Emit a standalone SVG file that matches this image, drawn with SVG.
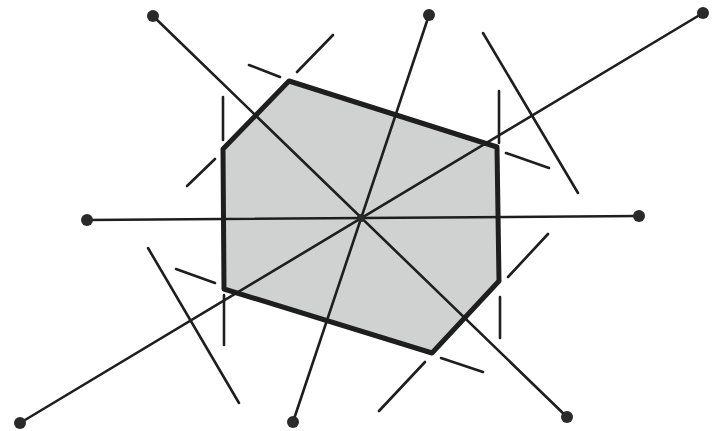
<svg xmlns="http://www.w3.org/2000/svg" width="716" height="431" viewBox="0 0 716 431">
<style>
.ray{stroke:#1e1e1e;stroke-width:2.6;fill:none;stroke-linecap:round}
.bis{stroke:#1e1e1e;stroke-width:2.6;fill:none;stroke-linecap:round}
.dot{fill:#2a2a2a}
.cell{fill:#d0d2d2;stroke:#1e1e1e;stroke-width:5;stroke-linejoin:round}
</style>
<rect width="716" height="431" fill="#ffffff"/>
<g id="cell">
<polygon class="cell" points="289,81 497,147 499,281 432,353 224,289 223,149"/>
</g>
<g id="connectors">
<line class="ray" x1="153" y1="16" x2="567" y2="417"/>
<line class="ray" x1="703" y1="13" x2="20" y2="423"/>
<line class="ray" x1="429" y1="15" x2="293" y2="422"/>
<line class="ray" x1="87" y1="220" x2="639" y2="216"/>
</g>
<g id="bisectors">
<line class="bis" x1="249" y1="65" x2="280" y2="77"/>
<line class="bis" x1="297" y1="72" x2="333" y2="35"/>
<line class="bis" x1="223" y1="97" x2="223" y2="140"/>
<line class="bis" x1="187" y1="186" x2="215" y2="159"/>
<line class="bis" x1="499" y1="91" x2="499" y2="143"/>
<line class="bis" x1="506" y1="153" x2="549" y2="168"/>
<line class="bis" x1="483" y1="33" x2="578" y2="193"/>
<line class="bis" x1="176" y1="269" x2="215" y2="283"/>
<line class="bis" x1="224" y1="295" x2="224" y2="345"/>
<line class="bis" x1="148" y1="248" x2="239" y2="403"/>
<line class="bis" x1="508" y1="277" x2="548" y2="234"/>
<line class="bis" x1="500" y1="297" x2="500" y2="338"/>
<line class="bis" x1="441" y1="358" x2="483" y2="372"/>
<line class="bis" x1="379" y1="411" x2="425" y2="362"/>
</g>
<g id="center"><circle class="dot" cx="361" cy="218" r="4"/></g>
<g id="p1"><circle class="dot" cx="153" cy="16" r="6"/></g>
<g id="p2"><circle class="dot" cx="429" cy="15" r="6"/></g>
<g id="p3"><circle class="dot" cx="703" cy="13" r="6"/></g>
<g id="p4"><circle class="dot" cx="639" cy="216" r="6"/></g>
<g id="p5"><circle class="dot" cx="567" cy="417" r="6"/></g>
<g id="p6"><circle class="dot" cx="293" cy="422" r="6"/></g>
<g id="p7"><circle class="dot" cx="20" cy="423" r="6"/></g>
<g id="p8"><circle class="dot" cx="87" cy="220" r="6"/></g>
</svg>
